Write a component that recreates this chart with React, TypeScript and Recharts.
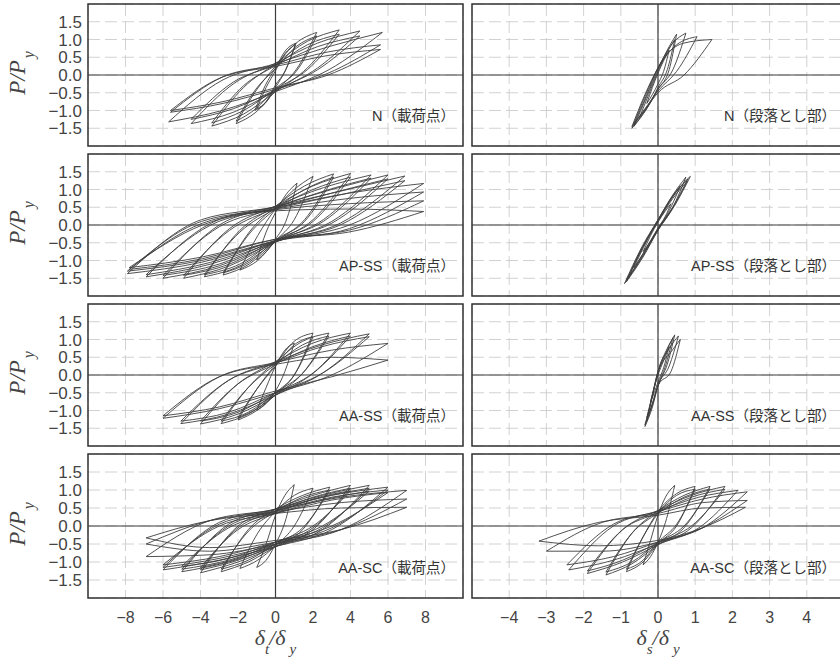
import React from 'react';
import { LineChart, Line, XAxis, YAxis, CartesianGrid, ReferenceLine, ReferenceArea, ReferenceDot } from 'recharts';

// each loop: rows of [x, upper branch y, lower branch y]
type Row = [number, number, number];

const yTicks = [-1.5, -1, -0.5, 0, 0.5, 1, 1.5];
const loadTicks = [-8, -6, -4, -2, 0, 2, 4, 6, 8];
const secTicks = [-4, -3, -2, -1, 0, 1, 2, 3, 4];
const loadDomain = [-10, 10];
const secDomain = [-5, 5];
const yDomain = [-2, 2];
const labelLevel = -1.15;

const loadNames = ['N（載荷点）', 'AP-SS（載荷点）', 'AA-SS（載荷点）', 'AA-SC（載荷点）'];
const secNames = ['N（段落とし部）', 'AP-SS（段落とし部）', 'AA-SS（段落とし部）', 'AA-SC（段落とし部）'];

const nLoadLoops: Row[][] = [
  [[-1.1, -1.0, -1.0], [-0.55, -0.3, -0.8], [0, 0.2, -0.35], [0.55, 0.7, 0.15], [1.1, 0.9, 0.9]],
  [[-1.0, -0.95, -0.95], [-0.5, -0.35, -0.75], [0, 0.12, -0.28], [0.5, 0.6, 0.1], [1.05, 0.85, 0.85]],
  [[-2.1, -1.37, -1.37], [-1.05, -0.45, -1.05], [0, 0.25, -0.45], [1.1, 0.9, 0.15], [2.2, 1.2, 1.2]],
  [[-2.1, -1.3, -1.3], [-1.05, -0.4, -0.95], [0, 0.18, -0.38], [1.1, 0.8, 0.1], [2.2, 1.1, 1.1]],
  [[-3.4, -1.44, -1.44], [-1.7, -0.35, -1.1], [0, 0.32, -0.47], [1.7, 0.95, 0.2], [3.4, 1.27, 1.27]],
  [[-3.4, -1.35, -1.35], [-1.7, -0.3, -1.0], [0, 0.27, -0.4], [1.7, 0.85, 0.15], [3.4, 1.15, 1.15]],
  [[-4.5, -1.37, -1.37], [-2.25, -0.25, -1.05], [0, 0.33, -0.45], [2.25, 0.9, 0.2], [4.5, 1.24, 1.24]],
  [[-4.5, -1.25, -1.25], [-2.25, -0.2, -0.95], [0, 0.28, -0.42], [2.25, 0.8, 0.15], [4.5, 1.1, 1.1]],
  [[-5.7, -1.32, -1.32], [-2.85, -0.15, -1.0], [0, 0.32, -0.47], [2.85, 0.8, 0.15], [5.7, 1.2, 1.2]],
  [[-5.6, -1.05, -1.05], [-2.8, -0.05, -0.8], [0, 0.28, -0.4], [2.8, 0.65, 0.05], [5.6, 0.85, 0.85]],
  [[-5.6, -1.0, -1.0], [-2.8, -0.05, -0.75], [0, 0.24, -0.36], [2.8, 0.55, 0.0], [5.6, 0.72, 0.72]],
];

const apLoadLoops: Row[][] = [
  [[-1.0, -0.99, -0.99], [-0.5, -0.2, -0.75], [0, 0.35, -0.4], [0.55, 0.85, 0.1], [1.15, 1.18, 1.18]],
  [[-1.9, -1.27, -1.27], [-0.95, -0.3, -1.0], [0, 0.45, -0.45], [1.0, 1.0, 0.15], [2.0, 1.37, 1.37]],
  [[-2.8, -1.41, -1.41], [-1.4, -0.2, -1.1], [0, 0.52, -0.47], [1.55, 1.1, 0.15], [3.1, 1.44, 1.44]],
  [[-2.8, -1.35, -1.35], [-1.4, -0.25, -1.05], [0, 0.45, -0.42], [1.55, 1.0, 0.1], [3.1, 1.35, 1.35]],
  [[-3.8, -1.46, -1.46], [-1.9, -0.15, -1.15], [0, 0.53, -0.48], [2.0, 1.1, 0.15], [4.0, 1.45, 1.45]],
  [[-3.8, -1.4, -1.4], [-1.9, -0.2, -1.1], [0, 0.46, -0.43], [2.0, 1.0, 0.1], [4.0, 1.35, 1.35]],
  [[-4.9, -1.5, -1.5], [-2.45, -0.1, -1.15], [0, 0.53, -0.48], [2.55, 1.05, 0.15], [5.1, 1.41, 1.41]],
  [[-4.9, -1.42, -1.42], [-2.45, -0.15, -1.1], [0, 0.47, -0.44], [2.55, 0.95, 0.1], [5.1, 1.32, 1.32]],
  [[-6.0, -1.5, -1.5], [-3.0, 0.0, -1.15], [0, 0.52, -0.48], [3.0, 1.0, 0.1], [6.0, 1.41, 1.41]],
  [[-6.0, -1.42, -1.42], [-3.0, -0.05, -1.1], [0, 0.46, -0.44], [3.0, 0.9, 0.05], [6.0, 1.3, 1.3]],
  [[-6.9, -1.46, -1.46], [-3.45, 0.05, -1.1], [0, 0.52, -0.47], [3.45, 0.95, 0.05], [6.9, 1.38, 1.38]],
  [[-6.9, -1.4, -1.4], [-3.45, 0.0, -1.05], [0, 0.46, -0.43], [3.45, 0.85, 0.0], [6.9, 1.25, 1.25]],
  [[-7.9, -1.37, -1.37], [-3.95, 0.15, -1.05], [0, 0.5, -0.45], [3.95, 0.9, 0.0], [7.9, 1.17, 1.17]],
  [[-7.9, -1.3, -1.3], [-3.95, 0.1, -1.0], [0, 0.45, -0.45], [3.95, 0.75, -0.1], [7.9, 0.93, 0.93]],
  [[-7.8, -1.25, -1.25], [-3.9, 0.05, -0.95], [0, 0.43, -0.4], [3.9, 0.6, -0.15], [7.9, 0.68, 0.68]],
  [[-7.8, -1.2, -1.2], [-3.9, 0.0, -0.9], [0, 0.4, -0.4], [3.9, 0.45, -0.2], [7.9, 0.38, 0.38]],
];

const aaLoadLoops: Row[][] = [
  [[-1.0, -1.0, -1.0], [-0.5, -0.35, -0.8], [0, 0.25, -0.45], [0.5, 0.7, 0.1], [1.0, 0.9, 0.9]],
  [[-2.0, -1.27, -1.27], [-1.0, -0.4, -1.0], [0, 0.3, -0.55], [1.0, 0.95, 0.0], [2.0, 1.18, 1.18]],
  [[-2.0, -1.2, -1.2], [-1.0, -0.4, -0.95], [0, 0.25, -0.5], [1.0, 0.85, 0.0], [2.0, 1.08, 1.08]],
  [[-2.9, -1.37, -1.37], [-1.45, -0.35, -1.1], [0, 0.37, -0.57], [1.45, 0.95, 0.05], [2.85, 1.18, 1.18]],
  [[-2.9, -1.3, -1.3], [-1.45, -0.35, -1.05], [0, 0.3, -0.5], [1.45, 0.85, 0.05], [2.85, 1.1, 1.1]],
  [[-4.0, -1.38, -1.38], [-2.0, -0.25, -1.1], [0, 0.37, -0.57], [2.0, 0.9, 0.05], [4.0, 1.18, 1.18]],
  [[-4.0, -1.3, -1.3], [-2.0, -0.25, -1.05], [0, 0.31, -0.5], [2.0, 0.8, 0.05], [4.0, 1.1, 1.1]],
  [[-5.05, -1.37, -1.37], [-2.5, -0.15, -1.1], [0, 0.37, -0.56], [2.5, 0.85, 0.05], [5.0, 1.16, 1.16]],
  [[-5.05, -1.3, -1.3], [-2.5, -0.15, -1.05], [0, 0.33, -0.5], [2.5, 0.8, 0.05], [5.0, 1.08, 1.08]],
  [[-6.0, -1.22, -1.22], [-3.0, -0.05, -0.95], [0, 0.35, -0.5], [3.0, 0.7, 0.0], [6.0, 0.89, 0.89]],
  [[-6.0, -1.15, -1.15], [-3.0, -0.05, -0.9], [0, 0.3, -0.45], [3.0, 0.5, -0.05], [6.0, 0.42, 0.42]],
];

const scLoadLoops: Row[][] = [
  [[-1.0, -1.15, -1.15], [-0.5, -0.5, -0.95], [0, 0.3, -0.5], [0.5, 0.85, 0.1], [1.0, 1.15, 1.15]],
  [[-1.9, -1.18, -1.18], [-0.95, -0.2, -0.95], [0, 0.4, -0.55], [1.0, 0.85, 0.0], [2.0, 1.05, 1.05]],
  [[-2.9, -1.27, -1.27], [-1.45, -0.1, -1.0], [0, 0.47, -0.57], [1.45, 0.85, -0.1], [2.9, 1.08, 1.08]],
  [[-2.9, -1.2, -1.2], [-1.45, -0.15, -0.95], [0, 0.4, -0.5], [1.45, 0.8, -0.05], [2.9, 1.0, 1.0]],
  [[-4.0, -1.3, -1.3], [-2.0, 0.0, -1.0], [0, 0.47, -0.57], [2.0, 0.85, -0.1], [4.0, 1.13, 1.13]],
  [[-4.0, -1.22, -1.22], [-2.0, -0.05, -0.95], [0, 0.41, -0.51], [2.0, 0.8, -0.05], [4.0, 1.05, 1.05]],
  [[-4.0, -1.15, -1.15], [-2.0, -0.1, -0.9], [0, 0.35, -0.45], [2.0, 0.75, 0.0], [4.0, 0.98, 0.98]],
  [[-5.0, -1.27, -1.27], [-2.5, 0.05, -1.0], [0, 0.47, -0.57], [2.5, 0.85, -0.1], [5.0, 1.13, 1.13]],
  [[-5.0, -1.2, -1.2], [-2.5, 0.0, -0.95], [0, 0.41, -0.51], [2.5, 0.8, -0.05], [5.0, 1.05, 1.05]],
  [[-5.0, -1.12, -1.12], [-2.5, -0.05, -0.9], [0, 0.35, -0.45], [2.5, 0.72, 0.0], [5.0, 0.97, 0.97]],
  [[-6.0, -1.22, -1.22], [-3.0, 0.1, -0.95], [0, 0.47, -0.57], [3.0, 0.85, -0.1], [6.0, 1.08, 1.08]],
  [[-6.0, -1.15, -1.15], [-3.0, 0.05, -0.9], [0, 0.41, -0.51], [3.0, 0.8, -0.05], [6.0, 1.0, 1.0]],
  [[-6.0, -1.08, -1.08], [-3.0, 0.0, -0.85], [0, 0.35, -0.45], [3.0, 0.72, 0.0], [6.0, 0.93, 0.93]],
  [[-6.9, -0.85, -0.85], [-3.5, 0.15, -0.8], [0, 0.45, -0.5], [3.5, 0.8, -0.1], [7.0, 0.99, 0.99]],
  [[-6.9, -0.5, -0.5], [-3.5, 0.15, -0.7], [0, 0.4, -0.45], [3.5, 0.65, -0.1], [7.0, 0.75, 0.75]],
  [[-6.9, -0.33, -0.33], [-3.5, 0.15, -0.6], [0, 0.35, -0.4], [3.5, 0.5, -0.1], [7.0, 0.52, 0.52]],
];

const nSecLoops: Row[][] = [
  [[-0.3, -0.8, -0.8], [-0.15, -0.35, -0.55], [0, 0.05, -0.25], [0.15, 0.4, 0.1], [0.3, 0.7, 0.7]],
  [[-0.5, -1.2, -1.2], [-0.25, -0.55, -0.85], [0, 0.1, -0.35], [0.25, 0.65, 0.15], [0.45, 1.0, 1.0]],
  [[-0.65, -1.45, -1.45], [-0.3, -0.6, -0.95], [0, 0.15, -0.4], [0.3, 0.8, 0.15], [0.5, 1.15, 1.15]],
  [[-0.7, -1.5, -1.5], [-0.35, -0.6, -1.0], [0, 0.2, -0.4], [0.4, 0.9, 0.15], [0.75, 1.18, 1.18]],
  [[-0.7, -1.45, -1.45], [-0.35, -0.55, -0.95], [0, 0.2, -0.45], [0.5, 0.85, 0.1], [1.05, 1.08, 1.08]],
  [[-0.65, -1.4, -1.4], [-0.3, -0.55, -0.9], [0, 0.2, -0.5], [0.7, 0.9, 0.0], [1.45, 1.0, 1.0]],
];

const apSecLoops: Row[][] = [
  [[-0.4, -0.75, -0.75], [-0.2, -0.3, -0.45], [0, 0.08, -0.08], [0.2, 0.4, 0.25], [0.35, 0.6, 0.6]],
  [[-0.65, -1.2, -1.2], [-0.3, -0.45, -0.65], [0, 0.12, -0.12], [0.3, 0.65, 0.4], [0.6, 1.1, 1.1]],
  [[-0.85, -1.6, -1.6], [-0.4, -0.6, -0.9], [0, 0.15, -0.15], [0.4, 0.85, 0.5], [0.75, 1.35, 1.35]],
  [[-0.9, -1.65, -1.65], [-0.45, -0.65, -0.95], [0, 0.15, -0.15], [0.45, 0.9, 0.55], [0.87, 1.37, 1.37]],
  [[-0.85, -1.55, -1.55], [-0.4, -0.6, -0.85], [0, 0.12, -0.12], [0.4, 0.8, 0.5], [0.8, 1.3, 1.3]],
  [[-0.8, -1.5, -1.5], [-0.4, -0.6, -0.8], [0, 0.1, -0.1], [0.4, 0.75, 0.5], [0.8, 1.25, 1.25]],
];

const aaSecLoops: Row[][] = [
  [[-0.2, -0.75, -0.75], [-0.1, -0.35, -0.5], [0, 0.0, -0.2], [0.15, 0.4, 0.2], [0.3, 0.8, 0.8]],
  [[-0.3, -1.2, -1.2], [-0.15, -0.55, -0.8], [0, 0.05, -0.3], [0.2, 0.6, 0.25], [0.4, 1.05, 1.05]],
  [[-0.35, -1.45, -1.45], [-0.15, -0.6, -0.9], [0, 0.1, -0.3], [0.25, 0.75, 0.3], [0.45, 1.13, 1.13]],
  [[-0.35, -1.4, -1.4], [-0.15, -0.6, -0.85], [0, 0.1, -0.3], [0.3, 0.75, 0.25], [0.55, 1.1, 1.1]],
  [[-0.3, -1.3, -1.3], [-0.15, -0.55, -0.8], [0, 0.1, -0.3], [0.35, 0.65, 0.1], [0.6, 1.0, 1.0]],
];

const scSecLoops: Row[][] = [
  [[-0.4, -1.08, -1.08], [-0.2, -0.4, -0.85], [0, 0.3, -0.45], [0.2, 0.8, 0.1], [0.45, 1.13, 1.13]],
  [[-0.85, -1.27, -1.27], [-0.4, -0.3, -1.0], [0, 0.4, -0.5], [0.5, 0.9, 0.0], [1.0, 1.1, 1.1]],
  [[-0.85, -1.2, -1.2], [-0.4, -0.3, -0.95], [0, 0.35, -0.45], [0.5, 0.85, 0.05], [1.0, 1.02, 1.02]],
  [[-1.4, -1.36, -1.36], [-0.7, -0.2, -1.05], [0, 0.42, -0.52], [0.7, 0.85, -0.05], [1.4, 1.1, 1.1]],
  [[-1.4, -1.28, -1.28], [-0.7, -0.2, -1.0], [0, 0.36, -0.46], [0.7, 0.8, 0.0], [1.4, 1.03, 1.03]],
  [[-1.9, -1.32, -1.32], [-0.95, -0.1, -1.0], [0, 0.43, -0.52], [0.9, 0.85, -0.05], [1.8, 1.1, 1.1]],
  [[-1.9, -1.25, -1.25], [-0.95, -0.1, -0.95], [0, 0.37, -0.46], [0.9, 0.8, 0.0], [1.8, 1.02, 1.02]],
  [[-2.4, -1.22, -1.22], [-1.2, 0.0, -0.95], [0, 0.42, -0.5], [1.1, 0.8, -0.05], [2.15, 0.99, 0.99]],
  [[-2.45, -1.08, -1.08], [-1.2, 0.05, -0.85], [0, 0.4, -0.45], [1.2, 0.75, -0.05], [2.4, 0.95, 0.95]],
  [[-3.0, -0.7, -0.7], [-1.5, 0.1, -0.7], [0, 0.35, -0.45], [1.2, 0.65, -0.05], [2.4, 0.71, 0.71]],
  [[-3.2, -0.42, -0.42], [-1.6, 0.1, -0.55], [0, 0.3, -0.4], [1.2, 0.5, -0.05], [2.35, 0.52, 0.52]],
];

const loadRows = [nLoadLoops, apLoadLoops, aaLoadLoops, scLoadLoops];
const secRows = [nSecLoops, apSecLoops, aaSecLoops, scSecLoops];

const sans = "'Liberation Sans', Arial, 'Noto Sans CJK JP', sans-serif";
const serif = "'Liberation Serif', 'DejaVu Serif', serif";

const fmtY = (v: number) => (v < 0 ? '\u2212' : '') + Math.abs(v).toFixed(1);
const fmtX = (v: number) => (v < 0 ? '\u2212' : '') + Math.abs(v);

function YTitle(props: any) {
  const vb = props.viewBox || {};
  const cy = vb.y + vb.height / 2 - 2;
  const bx = 25;
  return (
    <text x={bx} y={cy} transform={`rotate(-90, ${bx}, ${cy})`} textAnchor="middle"
      fontFamily={serif} fontStyle="italic" fontSize={23} fill="#444">
      <tspan>P/P</tspan>
      <tspan fontSize={16} dy={9} dx={2}>y</tspan>
    </text>
  );
}

function XTitle(props: any) {
  const vb = props.viewBox || {};
  const cx = vb.x + vb.width / 2;
  const by = vb.y + 47;
  return (
    <text x={cx} y={by} textAnchor="middle" fontFamily={serif} fontStyle="italic" fontSize={22} fill="#444">
      <tspan>δ</tspan>
      <tspan fontSize={15} dy={9}>{props.sub}</tspan>
      <tspan dy={-9}>/δ</tspan>
      <tspan fontSize={15} dy={9} dx={4}>y</tspan>
    </text>
  );
}

function Panel({ loops, row, kind, name }: { loops: Row[][]; row: number; kind: 'load' | 'sec'; name: string }) {
  const isLoad = kind === 'load';
  const bottom = row === 3;
  const xDomain = isLoad ? loadDomain : secDomain;
  const width = isLoad ? 465 : 376;
  const height = 146 + (bottom ? 64 : 0);
  const branches = loops.flatMap((rows) => [
    rows.map((r) => ({ x: r[0], y: r[1] })),
    rows.map((r) => ({ x: r[0], y: r[2] })),
  ]);

  return (
    <div style={{ position: 'absolute', left: isLoad ? 0 : 470, top: 2 + 150 * row }}>
      <LineChart width={width} height={height} margin={{ top: 2, right: 2, bottom: 2, left: isLoad ? 0 : 2 }}>
        <CartesianGrid stroke="#c6c6c6" strokeDasharray="12 5" strokeWidth={0.8} />
        <XAxis
          type="number"
          dataKey="x"
          domain={xDomain}
          ticks={isLoad ? loadTicks : secTicks}
          allowDataOverflow
          hide={!bottom}
          height={bottom ? 62 : 0}
          axisLine={false}
          tickLine={false}
          tickSize={6}
          tickMargin={8}
          tick={{ fontSize: 16, fill: '#444', fontFamily: sans }}
          tickFormatter={fmtX}
          label={bottom ? { content: (p: any) => <XTitle {...p} sub={isLoad ? 't' : 's'} /> } : undefined}
        />
        <YAxis
          type="number"
          domain={yDomain}
          ticks={yTicks}
          allowDataOverflow
          hide={!isLoad}
          width={88}
          axisLine={false}
          tickLine={false}
          tickSize={4}
          tickMargin={2}
          interval={0}
          tick={{ fontSize: 17, fill: '#444', fontFamily: sans }}
          tickFormatter={fmtY}
          label={{ content: (p: any) => <YTitle {...p} /> }}
        />
        <ReferenceLine x={0} stroke="#3c3c3c" strokeWidth={1.2} />
        <ReferenceLine y={0} stroke="#3c3c3c" strokeWidth={1.2} />
        {branches.map((d, i) => (
          <Line
            key={i}
            data={d}
            dataKey="y"
            type="monotone"
            dot={false}
            activeDot={false}
            stroke="#3e3e3e"
            strokeWidth={0.9}
            isAnimationActive={false}
          />
        ))}
        <ReferenceArea x1={xDomain[0]} x2={xDomain[1]} y1={yDomain[0]} y2={yDomain[1]}
          fill="none" fillOpacity={0} stroke="#333" strokeWidth={1.5} />
        <ReferenceDot x={xDomain[1]} y={labelLevel} r={0} fill="none" stroke="none"
          label={{ value: name, position: 'left', offset: 8, fontSize: 14.5, fill: '#333', fontFamily: sans }} />
      </LineChart>
    </div>
  );
}

export default function App() {
  return (
    <div style={{ position: 'absolute', left: 0, top: 0, width: 840, height: 666, overflow: 'hidden', background: '#fff' }}>
      {loadRows.map((loops, i) => (
        <Panel key={'l' + i} loops={loops} row={i} kind="load" name={loadNames[i]} />
      ))}
      {secRows.map((loops, i) => (
        <Panel key={'s' + i} loops={loops} row={i} kind="sec" name={secNames[i]} />
      ))}
    </div>
  );
}
